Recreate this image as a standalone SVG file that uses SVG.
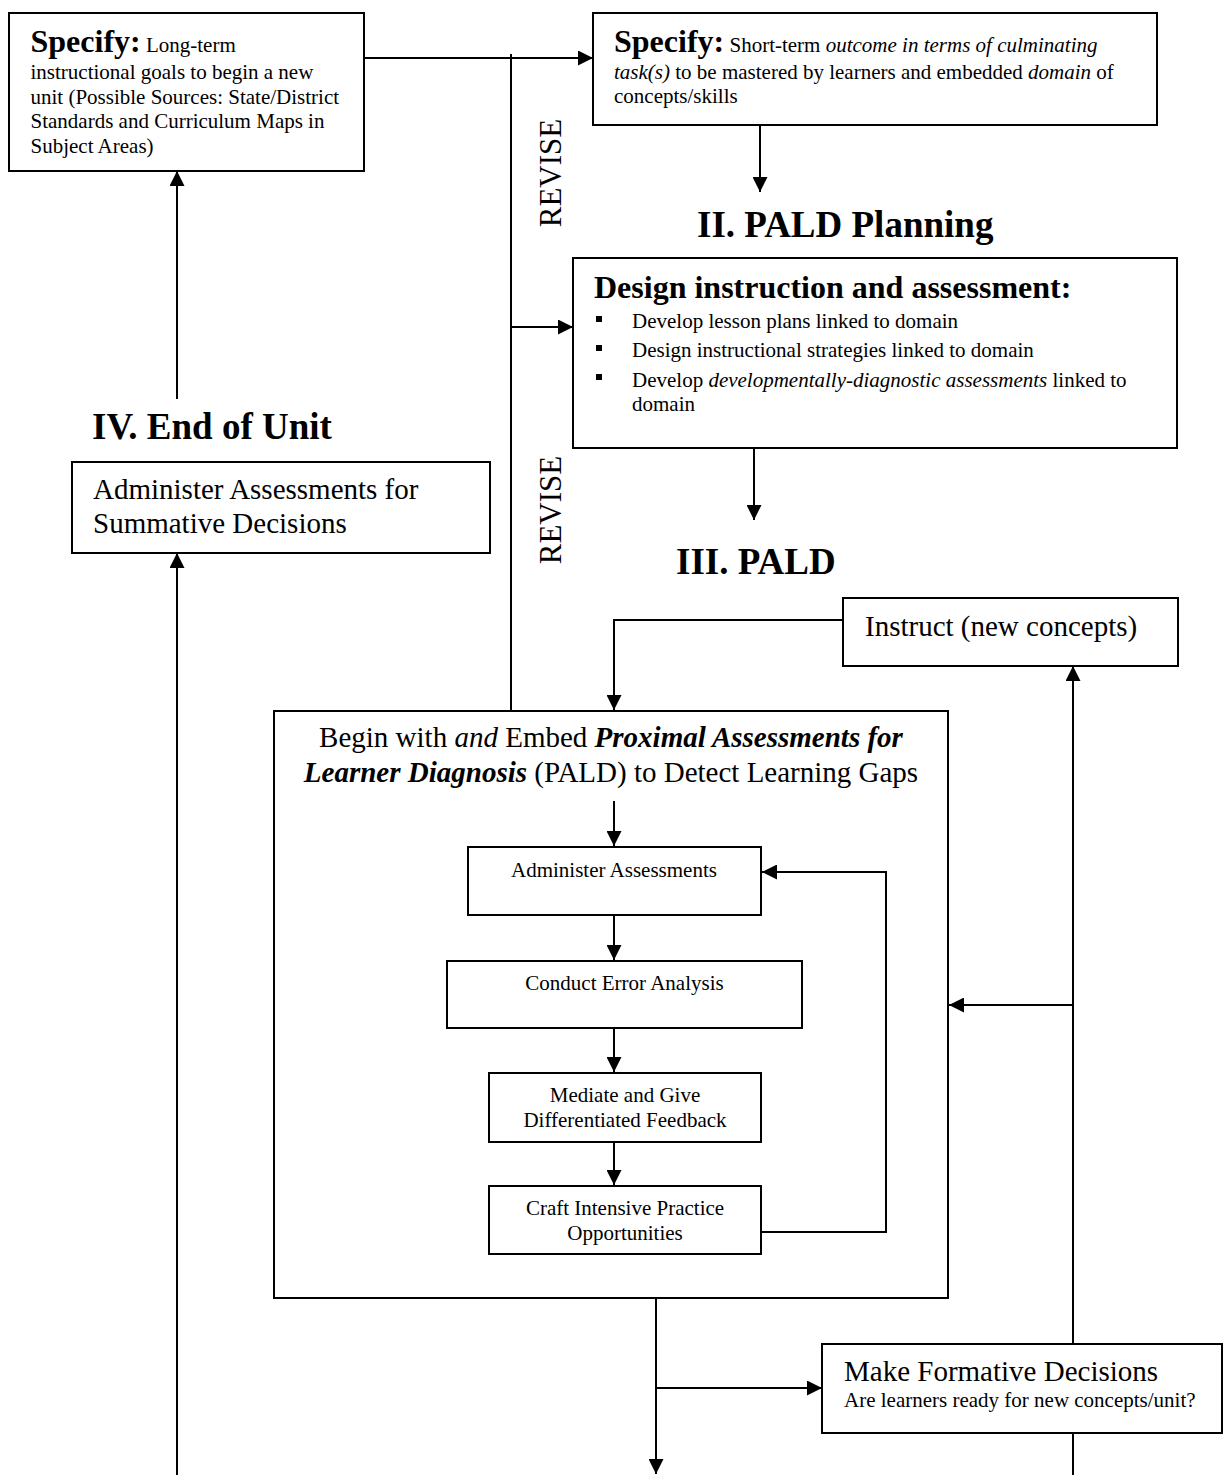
<svg xmlns="http://www.w3.org/2000/svg" width="1225" height="1475" viewBox="0 0 1225 1475">
<style>
.box{fill:#fff;stroke:#000;stroke-width:2}
.ln{fill:none;stroke:#000;stroke-width:2}
text{font-family:"Liberation Serif","Times New Roman",serif;fill:#000}
.s21{font-size:21px}
.s29{font-size:29px}
.s31{font-size:31px}
.h32{font-size:32px;font-weight:bold}
.h37{font-size:37px;font-weight:bold}
.i{font-style:italic}
.bi{font-style:italic;font-weight:bold}
.b{font-weight:bold}
.mid{text-anchor:middle}
</style>
<defs>
<marker id="arr" markerUnits="userSpaceOnUse" markerWidth="15" markerHeight="15" refX="15" refY="7.5" orient="auto">
<path d="M0,0 L15,7.5 L0,15 z" fill="#000"/>
</marker>
</defs>
<rect width="1225" height="1475" fill="#fff"/>

<g id="long-term">
<rect class="box" x="9" y="13" width="355" height="158"/>
<text class="s21" x="30.5" y="52"><tspan class="b" font-size="32">Specify:</tspan> Long-term</text>
<text class="s21" x="30.5" y="79">instructional goals to begin a new</text>
<text class="s21" x="30.5" y="104">unit (Possible Sources: State/District</text>
<text class="s21" x="30.5" y="128">Standards and Curriculum Maps in</text>
<text class="s21" x="30.5" y="153">Subject Areas)</text>
</g>

<g id="short-term">
<rect class="box" x="593" y="13" width="564" height="112"/>
<text class="s21" x="614" y="52"><tspan class="b" font-size="32">Specify:</tspan> Short-term <tspan class="i">outcome in terms of culminating</tspan></text>
<text class="s21" x="614" y="79"><tspan class="i">task(s)</tspan> to be mastered by learners and embedded <tspan class="i">domain</tspan> of</text>
<text class="s21" x="614" y="103">concepts/skills</text>
</g>

<g id="revise-labels">
<text class="s31 mid" transform="translate(561,173) rotate(-90)">REVISE</text>
<text class="s31 mid" transform="translate(561,510) rotate(-90)">REVISE</text>
</g>

<g id="heading-planning">
<text class="h37" x="697" y="237">II. PALD Planning</text>
</g>

<g id="design">
<rect class="box" x="573" y="258" width="604" height="190"/>
<text class="h32" x="594" y="298">Design instruction and assessment:</text>
<rect x="596" y="316" width="6" height="6" fill="#000"/>
<rect x="596" y="345" width="6" height="6" fill="#000"/>
<rect x="596" y="374" width="6" height="6" fill="#000"/>
<text class="s21" x="632" y="328">Develop lesson plans linked to domain</text>
<text class="s21" x="632" y="357">Design instructional strategies linked to domain</text>
<text class="s21" x="632" y="387">Develop <tspan class="i">developmentally-diagnostic assessments</tspan> linked to</text>
<text class="s21" x="632" y="411">domain</text>
</g>

<g id="heading-end">
<text class="h37" x="92" y="439">IV. End of Unit</text>
</g>

<g id="summative">
<rect class="box" x="72" y="462" width="418" height="91"/>
<text class="s29" x="93" y="499">Administer Assessments for</text>
<text class="s29" x="93" y="533">Summative Decisions</text>
</g>

<g id="heading-pald">
<text class="h37" x="676" y="574">III. PALD</text>
</g>

<g id="instruct">
<rect class="box" x="843" y="598" width="335" height="68"/>
<text class="s29" x="865" y="636">Instruct (new concepts)</text>
</g>

<g id="pald-box">
<rect class="box" x="274" y="711" width="674" height="587"/>
<text class="s29 mid" x="611" y="747">Begin with <tspan class="i">and</tspan> Embed <tspan class="bi">Proximal Assessments for</tspan></text>
<text class="s29 mid" x="611" y="782"><tspan class="bi">Learner Diagnosis</tspan> (PALD) to Detect Learning Gaps</text>
</g>

<g id="administer">
<rect class="box" x="468" y="847" width="293" height="68"/>
<text class="s21 mid" x="614" y="877">Administer Assessments</text>
</g>

<g id="error-analysis">
<rect class="box" x="447" y="961" width="355" height="67"/>
<text class="s21 mid" x="624.5" y="990">Conduct Error Analysis</text>
</g>

<g id="mediate">
<rect class="box" x="489" y="1073" width="272" height="69"/>
<text class="s21 mid" x="625" y="1102">Mediate and Give</text>
<text class="s21 mid" x="625" y="1127">Differentiated Feedback</text>
</g>

<g id="craft">
<rect class="box" x="489" y="1186" width="272" height="68"/>
<text class="s21 mid" x="625" y="1215">Craft Intensive Practice</text>
<text class="s21 mid" x="625" y="1240">Opportunities</text>
</g>

<g id="formative">
<rect class="box" x="822" y="1344" width="400" height="89"/>
<text class="s29" x="844" y="1381">Make Formative Decisions</text>
<text class="s21" x="844" y="1407">Are learners ready for new concepts/unit?</text>
</g>

<g id="connectors">
<path class="ln" d="M364,58 H593" marker-end="url(#arr)"/>
<path class="ln" d="M511,54 V711"/>
<path class="ln" d="M511,327 H573" marker-end="url(#arr)"/>
<path class="ln" d="M760,125 V192" marker-end="url(#arr)"/>
<path class="ln" d="M754,448 V520" marker-end="url(#arr)"/>
<path class="ln" d="M177,399 V171" marker-end="url(#arr)"/>
<path class="ln" d="M177,1475 V553" marker-end="url(#arr)"/>
<path class="ln" d="M843,620 H614 V710" marker-end="url(#arr)"/>
<path class="ln" d="M614,801 V846" marker-end="url(#arr)"/>
<path class="ln" d="M614,915 V960" marker-end="url(#arr)"/>
<path class="ln" d="M614,1028 V1072" marker-end="url(#arr)"/>
<path class="ln" d="M614,1142 V1185" marker-end="url(#arr)"/>
<path class="ln" d="M761,1232 H886 V872 H762" marker-end="url(#arr)"/>
<path class="ln" d="M656,1298 V1474" marker-end="url(#arr)"/>
<path class="ln" d="M656,1388 H822" marker-end="url(#arr)"/>
<path class="ln" d="M1073,1344 V666" marker-end="url(#arr)"/>
<path class="ln" d="M1073,1005 H949" marker-end="url(#arr)"/>
<path class="ln" d="M1073,1433 V1475"/>
</g>
</svg>
